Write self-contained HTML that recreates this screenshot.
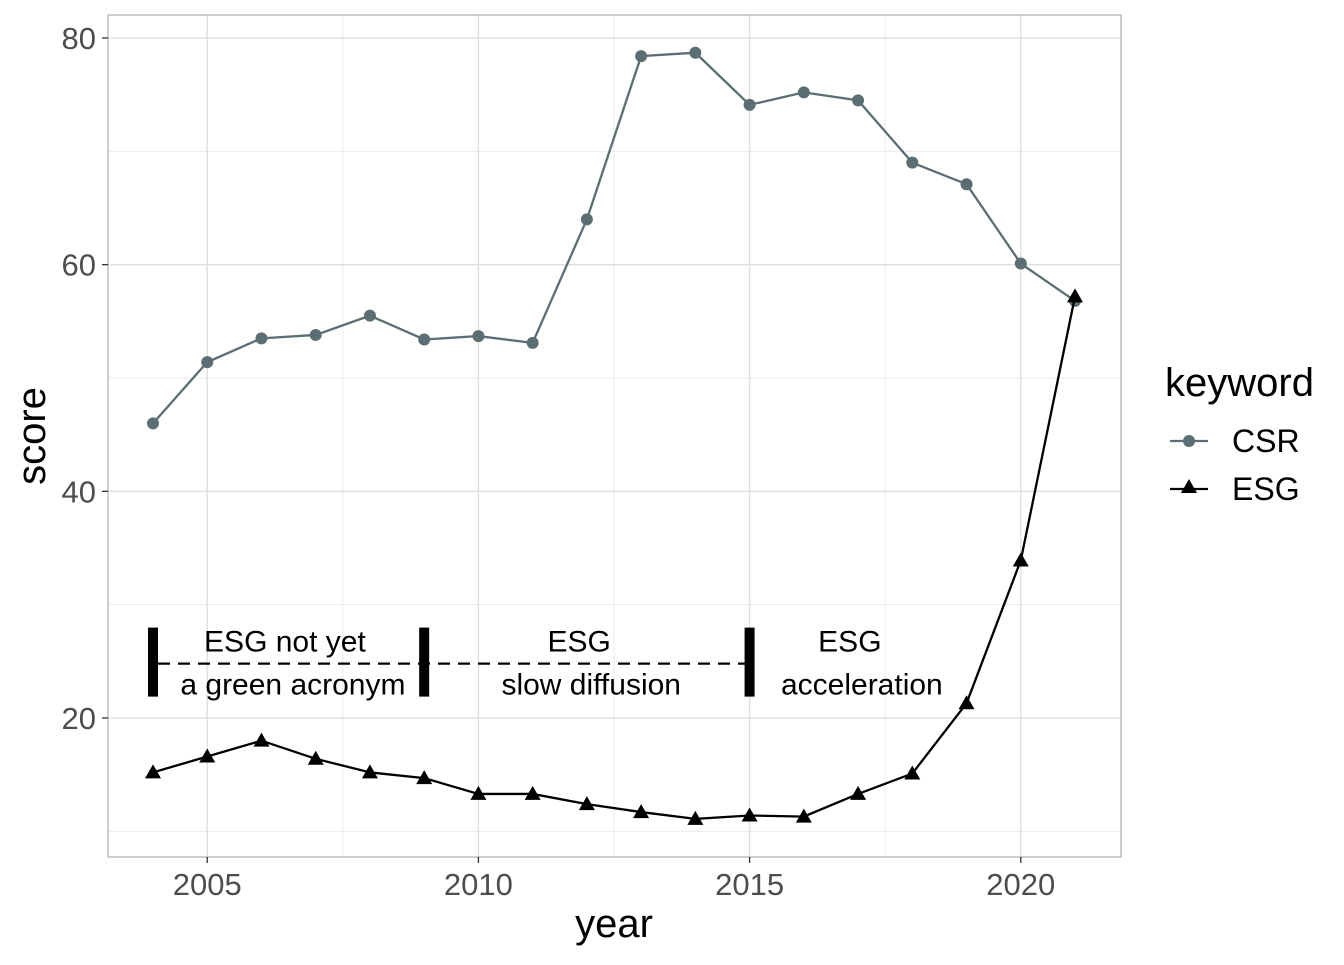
<!DOCTYPE html>
<html><head><meta charset="utf-8"><style>
body{margin:0;background:#fff;}
svg text{font-family:"Liberation Sans",Arial,sans-serif;}
</style></head><body>
<svg id="chart" width="1344" height="960" xmlns="http://www.w3.org/2000/svg">
<rect width="1344" height="960" fill="#fff"/>
<g id="grid"></g><g id="annot"></g><g id="series"></g><g id="axes"></g><g id="legend"></g>
</svg>
<script>
const years=[2004,2005,2006,2007,2008,2009,2010,2011,2012,2013,2014,2015,2016,2017,2018,2019,2020,2021];
const csrValues=[46.0,51.4,53.5,53.8,55.5,53.4,53.7,53.1,64.0,78.4,78.7,74.1,75.2,74.5,69.0,67.1,60.1,56.8];
const esgValues=[15.2,16.6,18.0,16.4,15.2,14.7,13.3,13.3,12.4,11.7,11.1,11.4,11.3,13.3,15.1,21.3,33.9,57.2];
const xTicks=[2005,2010,2015,2020];
const xMinor=[2007.5,2012.5,2017.5];
const yTicks=[20,40,60,80];
const yMinor=[10,30,50,70];
const phaseBreaks=[2004,2009,2015];
const phaseLabels=[["ESG not yet","a green acronym"],["ESG","slow diffusion"],["ESG","acceleration"]];
const phaseLabelYears=[2006.58,2012.08,2017.07];
const annotLevel=24.8;

const PL=108,PR=1121,PT=15,PB=857;
const x=v=>153+(v-2004)*(1075-153)/17;
const y=v=>944.67-11.3333*v;
const NS="http://www.w3.org/2000/svg";
function mk(tag,attrs,parent,name,txt){const e=document.createElementNS(NS,tag);for(const k in attrs)e.setAttribute(k,attrs[k]);


if(txt!==undefined)e.textContent=txt;parent.appendChild(e);return e;}
const G=id=>document.getElementById(id);
const grid=G('grid'),axes=G('axes'),ser=G('series'),an=G('annot'),lg=G('legend');
yMinor.forEach(v=>mk('line',{x1:PL,x2:PR,y1:y(v),y2:y(v),stroke:'#ebebeb','stroke-width':1},grid,'y-minor-gridline'));
xMinor.forEach(v=>mk('line',{x1:x(v),x2:x(v),y1:PT,y2:PB,stroke:'#ebebeb','stroke-width':1},grid,'x-minor-gridline'));
yTicks.forEach(v=>mk('line',{x1:PL,x2:PR,y1:y(v),y2:y(v),stroke:'#dedede','stroke-width':1.3},grid,'y-gridline'));
xTicks.forEach(v=>mk('line',{x1:x(v),x2:x(v),y1:PT,y2:PB,stroke:'#dedede','stroke-width':1.3},grid,'x-gridline'));
mk('rect',{x:PL,y:PT,width:PR-PL,height:PB-PT,fill:'none',stroke:'#b3b3b3','stroke-width':1.3},axes,'panel-border');
yTicks.forEach(v=>{mk('line',{x1:PL-6,x2:PL,y1:y(v),y2:y(v),stroke:'#333','stroke-width':1.3},axes,'y-tick');
mk('text',{x:PL-12,y:y(v)+11,'text-anchor':'end','font-size':31,fill:'#4d4d4d'},axes,'y-tick-label',v);});
xTicks.forEach(v=>{mk('line',{x1:x(v),x2:x(v),y1:PB,y2:PB+6,stroke:'#333','stroke-width':1.3},axes,'x-tick');
mk('text',{x:x(v),y:PB+38,'text-anchor':'middle','font-size':31,fill:'#4d4d4d'},axes,'x-tick-label',v);});
mk('text',{x:614,y:937,'text-anchor':'middle','font-size':40,fill:'#000'},axes,'x-axis-title','year');
mk('text',{x:0,y:0,'text-anchor':'middle','font-size':40,fill:'#000',transform:`translate(45,436) rotate(-90)`},axes,'y-axis-title','score');
// annotations
mk('line',{x1:x(phaseBreaks[0])+5,x2:x(phaseBreaks[2]),y1:y(annotLevel),y2:y(annotLevel),stroke:'#000','stroke-width':2.3,'stroke-dasharray':'12,8'},an,'phase-dashed-line');
phaseBreaks.forEach(v=>mk('rect',{x:x(v)-5,y:y(annotLevel)-36,width:10,height:69,fill:'#000'},an,'phase-boundary-bar'));
phaseLabels.forEach((l,i)=>{mk('text',{x:x(phaseLabelYears[i])-(l[0].length>3?8:12),y:y(annotLevel)-12,'text-anchor':'middle','font-size':30},an,'phase-label',l[0]);
mk('text',{x:x(phaseLabelYears[i]),y:y(annotLevel)+31,'text-anchor':'middle','font-size':30},an,'phase-label',l[1]);});
// series
mk('polyline',{points:years.map((yr,i)=>x(yr)+','+y(csrValues[i])).join(' '),fill:'none',stroke:'#5a6e73','stroke-width':2.3},ser,'csr-line');
years.forEach((yr,i)=>mk('circle',{cx:x(yr),cy:y(csrValues[i]),r:6,fill:'#5a6e73'},ser,'csr-point'));
mk('polyline',{points:years.map((yr,i)=>x(yr)+','+y(esgValues[i])).join(' '),fill:'none',stroke:'#000','stroke-width':2.3},ser,'esg-line');
const tri=(cx,cy)=>`${cx},${cy-8} ${cx-8},${cy+6} ${cx+8},${cy+6}`;
years.forEach((yr,i)=>mk('polygon',{points:tri(x(yr),y(esgValues[i])),fill:'#000'},ser,'esg-point'));
// legend
mk('text',{x:1165,y:396,'font-size':40},lg,'legend-title','keyword');
mk('line',{x1:1170,x2:1208,y1:441,y2:441,stroke:'#5a6e73','stroke-width':2.3},lg,'legend-csr-line');
mk('circle',{cx:1189,cy:441,r:6,fill:'#5a6e73'},lg,'legend-csr-point');
mk('text',{x:1232,y:452,'font-size':32},lg,'legend-csr-label','CSR');
mk('line',{x1:1170,x2:1208,y1:489,y2:489,stroke:'#000','stroke-width':2.3},lg,'legend-esg-line');
mk('polygon',{points:tri(1189,487),fill:'#000'},lg,'legend-esg-point');
mk('text',{x:1232,y:500,'font-size':32},lg,'legend-esg-label','ESG');
</script>
</body></html>
